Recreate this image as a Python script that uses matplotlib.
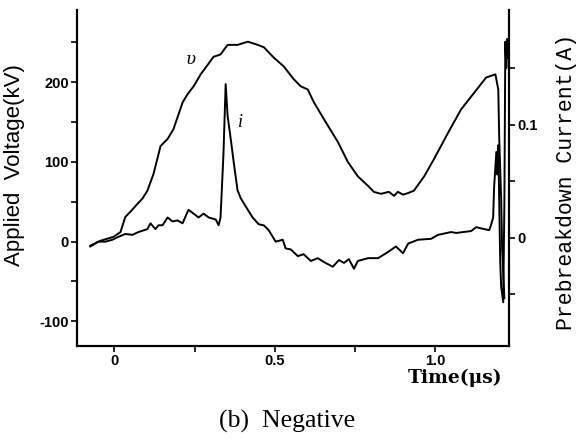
import matplotlib
matplotlib.use('Agg')
import matplotlib.pyplot as plt
from matplotlib.ticker import FixedLocator

# applied voltage v (kV) vs time (us)
v_time = [-0.075, -0.044, -0.003, 0.019, 0.034, 0.05, 0.072, 0.0875, 0.103, 0.122,
          0.144, 0.166, 0.184, 0.213, 0.228, 0.247, 0.269, 0.291, 0.309, 0.331,
          0.353, 0.384, 0.416, 0.447, 0.466, 0.497, 0.528, 0.559, 0.581, 0.603,
          0.622, 0.653, 0.697, 0.728, 0.759, 0.791, 0.809, 0.831, 0.856, 0.872,
          0.884, 0.9, 0.916, 0.934, 0.966, 0.997, 1.041, 1.081, 1.122, 1.159,
          1.188, 1.197, 1.2, 1.206, 1.209, 1.216]
v_kv = [-5, 1, 6, 12, 31, 37.5, 47.5, 54, 64, 85,
        120, 129, 141, 175, 185, 195, 210, 222, 232, 235,
        247, 247, 251, 247, 244, 231, 220, 204, 195, 191,
        175, 154, 125, 100, 82, 70, 62.5, 60, 62.5, 57.5,
        62.5, 59, 61, 64, 82, 104, 137, 166, 187, 206,
        210, 191, 129, 54, -9, -71]

# prebreakdown current i (A) vs time (us)
i_time = [-0.075, -0.05, -0.028, -0.006, 0.0125, 0.034, 0.056, 0.075, 0.103, 0.1125,
          0.128, 0.1375, 0.15, 0.166, 0.181, 0.197, 0.2125, 0.231, 0.247, 0.2625,
          0.278, 0.294, 0.316, 0.325, 0.331, 0.340, 0.347, 0.353, 0.3625, 0.372,
          0.384, 0.394, 0.409, 0.431, 0.45, 0.466, 0.481, 0.503, 0.525, 0.534,
          0.55, 0.572, 0.59, 0.6125, 0.634, 0.653, 0.681, 0.7, 0.716, 0.731,
          0.747, 0.759, 0.791, 0.822, 0.847, 0.878, 0.9, 0.916, 0.947, 0.9875,
          1.009, 1.05, 1.066, 1.1125, 1.128, 1.153, 1.169, 1.175, 1.181, 1.184,
          1.191, 1.194, 1.197, 1.200, 1.203, 1.206, 1.2125, 1.216, 1.219, 1.222,
          1.225, 1.228]
i_amp = [-0.0077, -0.0034, -0.0034, -0.0017, 0.0009, 0.0034, 0.0026, 0.0051, 0.0077, 0.0128,
         0.0077, 0.0111, 0.0111, 0.018, 0.0145, 0.0154, 0.0128, 0.0248, 0.0214, 0.018,
         0.0214, 0.018, 0.0162, 0.0111, 0.018, 0.0735, 0.136, 0.108, 0.088, 0.067,
         0.042, 0.035, 0.028, 0.018, 0.012, 0.011, 0.0068, -0.0034, -0.0017, -0.0094,
         -0.0103, -0.0162, -0.0145, -0.0205, -0.018, -0.0214, -0.0256, -0.0197, -0.0222, -0.0188,
         -0.0274, -0.0205, -0.018, -0.018, -0.0137, -0.0077, -0.0137, -0.0051, -0.0017, -0.0009,
         0.0026, 0.0051, 0.0043, 0.006, 0.0094, 0.0077, 0.0068, 0.012, 0.018, 0.045,
         0.076, 0.056, 0.082, 0.031, -0.0205, -0.0436, -0.057, 0.031, 0.1735, 0.150,
         0.176, 0.159]

x_ticks = [0, 0.5, 1.0]
x_tick_labels = ['0', '0.5', '1.0']
v_ticks = [-100, 0, 100, 200]
v_tick_labels = ['-100', '0', '100', '200']
i_ticks = [0, 0.1]
i_tick_labels = ['0', '0.1']

tick_font = {'family': 'Liberation Sans', 'weight': 'bold', 'size': 10.5}

fig = plt.figure(figsize=(5.76, 4.47), dpi=100)
ax = fig.add_axes([0.134, 0.226, 0.750, 0.752])
ax2 = ax.twinx()

ax.plot(v_time, v_kv, color='black', lw=1.4)
ax2.plot(i_time, i_amp, color='black', lw=1.4)

ax.set_xlim(-0.116, 1.231)
ax.set_ylim(-131, 291)
ax2.set_ylim(-0.0957, 0.2017)

for a in (ax, ax2):
    a.spines['top'].set_visible(False)
    for side in ('left', 'right', 'bottom'):
        a.spines[side].set_linewidth(1.5)

ax.set_xticks(x_ticks)
ax.set_xticklabels(x_tick_labels, fontdict=tick_font)
ax.xaxis.set_minor_locator(FixedLocator([0.25, 0.75]))
ax.set_yticks(v_ticks)
ax.set_yticklabels(v_tick_labels, fontdict=tick_font)
ax.yaxis.set_minor_locator(FixedLocator([-50, 50, 150, 250]))
ax2.set_yticks(i_ticks)
ax2.set_yticklabels(i_tick_labels, fontdict=tick_font)
ax2.yaxis.set_minor_locator(FixedLocator([-0.05, 0.05, 0.15]))

ax.tick_params(which='both', direction='out', length=4, width=1.2, pad=2)
ax2.tick_params(which='both', direction='out', length=4, width=1.2, pad=2)

ax.set_ylabel('Applied  Voltage(kV)', family='Liberation Sans', fontsize=16)
ax.yaxis.set_label_coords(-0.120, 0.539)
ax2.set_ylabel('Prebreakdown Current(A)', family='Liberation Mono', fontsize=15.5)
ax2.yaxis.set_label_coords(1.108, 0.488)

ax.text(0.984, -0.096, 'Time(\u03bcs)', transform=ax.transAxes, ha='right', va='center',
        family='DejaVu Serif', weight='bold', fontsize=13.5)

ax.text(0.2375, 229, '\u03c5', family='DejaVu Serif', style='italic', fontsize=12,
        ha='center', va='center')
ax.text(0.394, 150, 'i', family='Liberation Serif', style='italic', fontsize=13,
        ha='center', va='center')

fig.text(0.498, 0.058, '(b)  Negative', family='Liberation Serif', fontsize=18.5,
         ha='center', va='center')

fig.savefig('out.png', dpi=100)
